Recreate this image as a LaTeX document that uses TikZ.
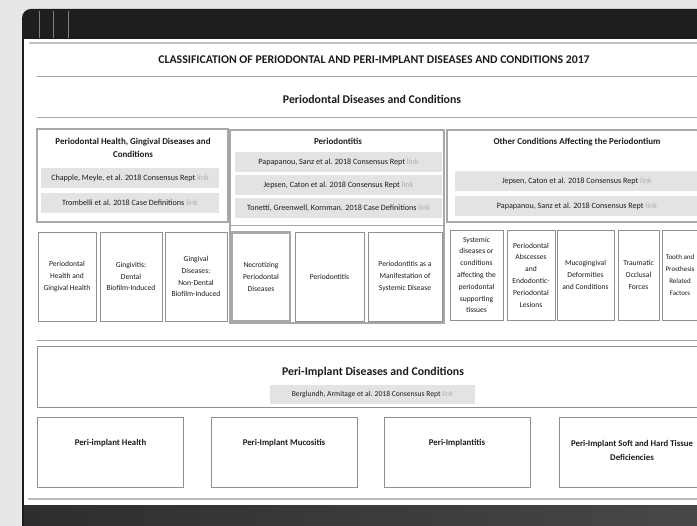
\documentclass[tikz,border=0pt]{standalone}
\usepackage{fontspec}
\setmainfont{Carlito}
\definecolor{pagegray}{HTML}{E7E7E7}
\definecolor{framedark}{HTML}{1E1E1E}
\definecolor{rulegray}{HTML}{A8A8A8}
\definecolor{boxgray}{HTML}{909090}
\definecolor{refgray}{HTML}{E3E3E3}
\definecolor{inkgray}{HTML}{1C1C1C}
\definecolor{linkgray}{HTML}{B0B0B0}
\newcommand{\reflink}{\textcolor{linkgray}{link}}
\tikzset{
  head/.style={text=inkgray,align=center,inner sep=0pt,font=\fontsize{9}{13}\selectfont\bfseries},
  bighead/.style={text=inkgray,inner sep=0pt,font=\fontsize{11.8}{14}\selectfont\bfseries},
  colbox/.style={draw=rulegray,line width=1.2pt,minimum width=#1},
  refbox/.style={fill=refgray,text=inkgray,inner sep=0pt,minimum height=20pt,minimum width=#1,font=\fontsize{8.1}{10}\selectfont},
  cellbox/.style={draw=boxgray,line width=0.8pt,fill=white,text=inkgray,align=center,inner sep=0pt,minimum width=#1,font=\fontsize{7.6}{11.8}\selectfont},
  implbox/.style={draw=boxgray,line width=0.8pt,minimum width=146pt,minimum height=70pt},
  impltext/.style={text=inkgray,align=center,inner sep=0pt,font=\fontsize{8.8}{14}\selectfont\bfseries}
}
\begin{document}
\begin{tikzpicture}[x=1pt,y=-1pt]
  \useasboundingbox (0,0) rectangle (697,526);
  \clip (0,0) rectangle (697,526);
  \fill[pagegray] (0,0) rectangle (697,526);
  \fill[framedark,rounded corners=9pt] (22,9) rectangle (740,560);
  \shade[left color=black!82,right color=black!72] (24,505) rectangle (697,526);
  \fill[white] (24,39) rectangle (697,505);
  \foreach \x in {39,53,68}
    \draw[gray,line width=0.9pt] (\x,11) -- (\x,38);
  \draw[rulegray!70,line width=1.5pt] (29,43) -- (697,43);
  \foreach \y in {77,118,341}
    \draw[rulegray,line width=1pt] (37,\y) -- (697,\y);
  \draw[rulegray!80,line width=1.2pt] (28,499) -- (697,499);

  \node[bighead] (title) at (374,60) {CLASSIFICATION OF PERIODONTAL AND PERI-IMPLANT DISEASES AND CONDITIONS 2017};
  \node[bighead] (perio) at (372,99) {Periodontal Diseases and Conditions};

  \node[colbox=191pt,minimum height=93pt] (healthcol) at (132.5,175.5) {};
  \node[colbox=214pt,minimum height=193pt,line width=2.6pt] (periocol) at (337,226.5) {};
  \node[colbox=214pt,minimum height=96pt,line width=1pt] (periotop) at (337,178) {};
  \node[colbox=258pt,minimum height=92pt] (othercol) at (576,176) {};

  \node[head] (healthhead) at (133,147.5) {Periodontal Health, Gingival Diseases and\\Conditions};
  \node[head] (periohead) at (338,141) {Periodontitis};
  \node[head] (otherhead) at (577,142) {Other Conditions Affecting the Periodontium};

  \node[refbox=178pt] (chapple) at (130,178) {Chapple, Meyle, et al. 2018 Consensus Rept \reflink};
  \node[refbox=178pt] (trombelli) at (130,203) {Trombelli et al. 2018 Case Definitions \reflink};
  \node[refbox=207pt] (papapanou) at (338.5,162) {Papapanou, Sanz et al. 2018 Consensus Rept \reflink};
  \node[refbox=207pt] (jepsen) at (338.5,185) {Jepsen, Caton et al. 2018 Consensus Rept \reflink};
  \node[refbox=207pt] (tonetti) at (338.5,208.5) {Tonetti, Greenwell, Kornman. 2018 Case Definitions \reflink};
  \node[refbox=244pt] (jepsenb) at (577,181) {Jepsen, Caton et al. 2018 Consensus Rept \reflink};
  \node[refbox=244pt] (papapanoub) at (577,206.5) {Papapanou, Sanz et al. 2018 Consensus Rept \reflink};

  \foreach \n/\x/\w/\t in {
    gumhealth/67/58/{Periodontal\\Health and\\Gingival Health},
    gingivitis/131/62/{Gingivitis:\\Dental\\Biofilm-Induced},
    nondental/196/62/{Gingival\\Diseases:\\Non-Dental\\Biofilm-Induced},
    periodontitis/329.5/69/{Periodontitis},
    manifest/405/74/{Periodontitis as a\\Manifestation of\\Systemic Disease}}
    \node[cellbox=\w pt,minimum height=89pt] (\n) at (\x,276.5) {\t};
  \node[cellbox=58pt,minimum height=89pt,draw=rulegray,line width=2.6pt] (necro) at (261,277) {Necrotizing\\Periodontal\\Diseases};
  \foreach \n/\x/\w/\t in {
    systemic/476.5/53/{Systemic\\diseases or\\conditions\\affecting the\\periodontal\\supporting\\tissues},
    abscess/531/48/{Periodontal\\Abscesses\\and\\Endodontic-\\Periodontal\\Lesions},
    mucogingival/585.5/57/{Mucogingival\\Deformities\\and Conditions},
    traumatic/638.5/41/{Traumatic\\Occlusal\\Forces}}
    \node[cellbox=\w pt,minimum height=90pt] (\n) at (\x,275) {\t};
  \node[cellbox=44pt,minimum height=90pt] (prosthesis) at (684,275) {};
  \node[cellbox=30pt,draw=none,font=\fontsize{7}{11.8}\selectfont] (prosthesis-t) at (680,275) {Tooth and\\Prosthesis\\Related\\Factors};

  \node[draw=boxgray,line width=1pt,minimum width=668pt,minimum height=61pt] (implcol) at (371,377.5) {};
  \node[bighead] (implhead) at (373,372) {Peri-Implant Diseases and Conditions};
  \node[refbox=205pt,minimum height=19pt,font=\fontsize{7.6}{9}\selectfont] (berglundh) at (372.5,394.5) {Berglundh, Armitage et al. 2018 Consensus Rept \reflink};

  \foreach \n/\x/\t/\ty in {
    implhealth/110.5/{Peri-implant Health}/443,
    mucositis/284/{Peri-Implant Mucositis}/443,
    implantitis/457/{Peri-Implantitis}/443,
    deficiency/632/{Peri-Implant Soft and Hard Tissue\\Deficiencies}/450}{
    \node[implbox] (\n) at (\x,452) {};
    \node[impltext] (\n-t) at (\x,\ty) {\t};
  }
\end{tikzpicture}
\end{document}
